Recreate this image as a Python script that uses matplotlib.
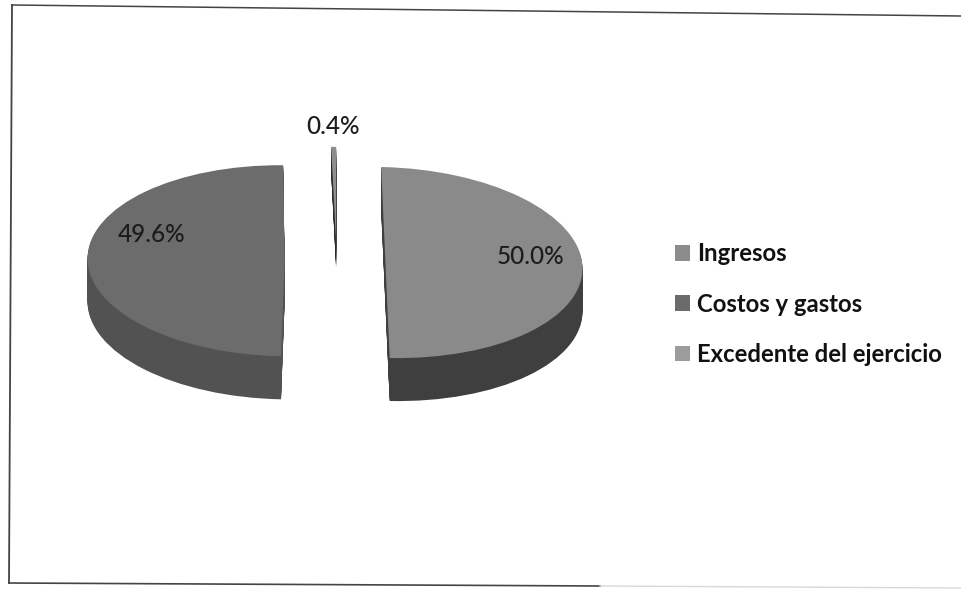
import matplotlib
matplotlib.use('Agg')
import matplotlib.pyplot as plt
from matplotlib.patches import Patch
from matplotlib.transforms import Affine2D

# Data
categories = ['Ingresos', 'Costos y gastos', 'Excedente del ejercicio']
values = [50.0, 49.6, 0.4]
top_colors = ['#8a8a8a', '#6c6c6c', '#8e8e8e']
wall_colors = ['#3f3f3f', '#525252', '#2a2a2a']
legend_colors = ['#8c8c8c', '#6b6b6b', '#9c9c9c']

W, H = 961, 590
CX, CY = 335, 261.5   # pie centre, pixels from the top left
RX, RY = 197, 95.5    # ellipse radii, pixels
DEPTH = 43
THIN_DEPTH = 25       # the small slice's wall fades out early
EXPLODE = [0.256, 0.256, 0.2]
SHEAR = [-0.0216, 0.018, 0.0]
NUDGE = [0.0, 0.0, 0.008]
SCAN_TILT = -0.041    # the page is a little crooked in the scanner


def draw_layer(ax, colors, dy):
    """Draw one horizontal layer of the fake 3D pie, dy in pixels downward."""
    wedges, _ = ax.pie(values, colors=colors, startangle=90, counterclock=False,
                       explode=EXPLODE, center=(0, -dy / RY), radius=1,
                       wedgeprops={'linewidth': 0})
    for wedge, k, n in zip(wedges, SHEAR, NUDGE):
        # the flat faces lean a little in the original, perspective from Excel
        lean = Affine2D.from_values(1, SCAN_TILT, k, 1, k * dy / RY + n, 0)
        wedge.set_transform(lean + ax.transData)
    if dy > THIN_DEPTH:
        wedges[2].set_visible(False)
    return wedges


fig = plt.figure(figsize=(W / 100, H / 100), dpi=100, facecolor='white')

# the pie axes is scaled so one data unit is RX wide and RY high
half_w, half_h = 1.6, 2.0
ax = fig.add_axes([(CX - half_w * RX) / W, 1 - (CY + half_h * RY) / H,
                   2 * half_w * RX / W, 2 * half_h * RY / H])
for dy in range(DEPTH, 0, -1):
    draw_layer(ax, wall_colors, dy)
draw_layer(ax, top_colors, 0)
ax.set_aspect('auto')
ax.set_xlim(-half_w, half_w)
ax.set_ylim(-half_h, half_h)
ax.patch.set_alpha(0)

# overlay in pixel coordinates for frame, labels
over = fig.add_axes([0, 0, 1, 1], facecolor='none')
over.set_xlim(0, W)
over.set_ylim(H, 0)
over.axis('off')
# scanned frame: slightly crooked, no right side, bottom fades out
over.plot([12, 961], [5, 16], color='#444444', lw=1.1)
over.plot([12, 9], [5, 583], color='#444444', lw=1.3)
over.plot([9, 600], [583, 586], color='#444444', lw=1.2)
over.plot([600, 961], [586, 588], color='#d8d8d8', lw=1.0)

font = 'Lato'
label_pos = [(531, 257), (152, 235), (333, 127)]
for v, (x, y) in zip(values, label_pos):
    over.text(x, y, f'{v:.1f}%', ha='center', va='center', fontsize=17.5,
              family=font, weight='medium', color='#1c1c1c')

handles = [Patch(facecolor=c, edgecolor='none') for c in legend_colors]
over.legend(handles, categories, loc='center left', bbox_to_anchor=(675 / W, 1 - 304 / H),
            frameon=False, borderpad=0, borderaxespad=0, handlelength=0.64, handleheight=0.64,
            handletextpad=0.3, labelspacing=1.15,
            prop={'family': font, 'size': 17.2, 'weight': 'bold'}, labelcolor='#111111')

fig.savefig('out.png', dpi=100, facecolor='white')
